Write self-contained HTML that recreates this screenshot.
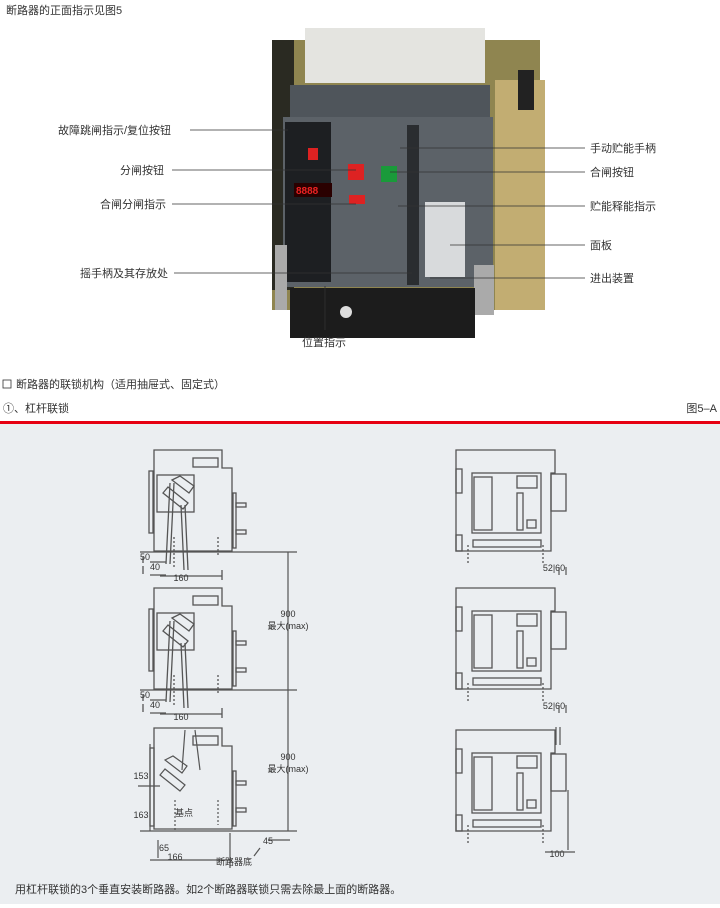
<!DOCTYPE html>
<html><head><meta charset="utf-8"><style>
body{margin:0;width:720px;height:908px;background:#fff;font-family:"Liberation Sans","Noto Sans CJK SC",sans-serif;overflow:hidden}
svg{display:block}
text{font-family:"Liberation Sans","Noto Sans CJK SC",sans-serif}
</style></head><body>
<svg width="720" height="908" viewBox="0 0 720 908" xmlns="http://www.w3.org/2000/svg">
<defs>
<g id="side" fill="none" stroke="#555" stroke-width="1.3">
 <path d="M154,450 H222 V468 H232 V551 H154 Z"/>
 <rect x="157" y="475" width="37" height="37"/>
 <rect x="193" y="458" width="25" height="9"/>
 <rect x="149" y="471" width="4" height="62"/>
 <rect x="233" y="493" width="3" height="55"/>
 <rect x="236" y="503" width="10" height="4"/>
 <rect x="236" y="530" width="10" height="4"/>
 <path d="M170,483 L166,564 M174,483 L170,564 M181,505 L184,570 M185,505 L188,570"/>
 <path d="M172,480 l8,-4 l14,10 l-5,7 z M163,493 l5,-6 l20,16 l-5,6 z"/>
 <path d="M174,537 v30 M218,537 v20" stroke-dasharray="2,2"/>
 <path d="M143,557 v6 M143,566 v8 M150,562 H166 M150,575 H166 M160,576 H222 M222,570 V580"/>
</g>
<g id="front" fill="none" stroke="#555" stroke-width="1.3">
 <path d="M456,450 H555 V473 H551 V551 H456 Z"/>
 <rect x="456" y="469" width="6" height="24"/>
 <rect x="456" y="535" width="6" height="16"/>
 <rect x="472" y="473" width="69" height="60"/>
 <rect x="474" y="477" width="18" height="53"/>
 <rect x="517" y="476" width="20" height="12"/>
 <rect x="517" y="493" width="6" height="37"/>
 <rect x="527" y="520" width="9" height="8"/>
 <rect x="473" y="540" width="68" height="7"/>
 <rect x="551" y="474" width="15" height="37"/>
 <path d="M468,545 v18 M543,545 v18" stroke-dasharray="2,2"/>
</g>
</defs>
<text x="6" y="14" font-size="11" fill="#333">断路器的正面指示见图5</text>
<!-- breaker photo -->
<rect x="272" y="40" width="268" height="270" fill="#8f8550"/>
<rect x="272" y="40" width="22" height="250" fill="#2a2a22"/>
<rect x="495" y="80" width="50" height="230" fill="#c2ad72"/>
<rect x="305" y="28" width="180" height="55" fill="#e4e4e0"/>
<rect x="290" y="85" width="200" height="35" fill="#4f555b"/>
<rect x="283" y="117" width="210" height="170" fill="#5c6268"/>
<rect x="285" y="122" width="46" height="160" fill="#1d1f22"/>
<rect x="294" y="183" width="38" height="14" fill="#2a0000"/>
<text x="296" y="194" font-size="10" fill="#e22" font-weight="bold">8888</text>
<rect x="308" y="148" width="10" height="12" fill="#d22"/>
<rect x="348" y="164" width="16" height="16" fill="#d22"/>
<rect x="381" y="166" width="16" height="16" fill="#1a9a3a"/>
<rect x="349" y="195" width="16" height="9" fill="#d22"/>
<rect x="407" y="125" width="12" height="160" fill="#2a2d30"/>
<rect x="425" y="202" width="40" height="75" fill="#d8dadc"/>
<rect x="275" y="245" width="12" height="65" fill="#aaa"/>
<rect x="474" y="265" width="20" height="50" fill="#aaa"/>
<rect x="290" y="288" width="185" height="50" fill="#1c1c1c"/>
<circle cx="346" cy="312" r="6" fill="#ddd"/>
<rect x="518" y="70" width="16" height="40" fill="#222"/>
<!-- labels -->
<g font-size="11" fill="#333">
<text x="58" y="134">故障跳闸指示/复位按钮</text>
<text x="120" y="174">分闸按钮</text>
<text x="100" y="208">合闸分闸指示</text>
<text x="80" y="277">摇手柄及其存放处</text>
<text x="590" y="152">手动贮能手柄</text>
<text x="590" y="176">合闸按钮</text>
<text x="590" y="210">贮能释能指示</text>
<text x="590" y="249">面板</text>
<text x="590" y="282">进出装置</text>
<text x="302" y="346">位置指示</text>
</g>
<g stroke="#333" stroke-width="0.8">
<path d="M190,130 H288 M172,170 H356 M172,204 H356 M174,273 H412 M400,148 H585 M390,172 H585 M398,206 H585 M450,245 H585 M430,278 H585 M325,286 V330"/>
</g>
<g font-size="11" fill="#333">
<rect x="3" y="380" width="8" height="8" fill="none" stroke="#333" stroke-width="0.8"/>
<text x="16" y="388">断路器的联锁机构（适用抽屉式、固定式）</text>
<text x="3" y="412">①、杠杆联锁</text>
<text x="717" y="412" text-anchor="end">图5–A</text>
</g>
<rect x="0" y="421" width="720" height="3" fill="#e60012"/>
<rect x="0" y="424" width="720" height="480" fill="#ebeef1"/>
<!-- side views -->
<use href="#side"/>
<use href="#side" transform="translate(0,138)"/>
<g transform="translate(0,278)">
 <path d="M154,450 H222 V468 H232 V551 H154 Z" fill="none" stroke="#555" stroke-width="1.3"/>
 <rect x="193" y="458" width="25" height="9" fill="none" stroke="#555" stroke-width="1.3"/>
 <rect x="233" y="493" width="3" height="55" fill="none" stroke="#555" stroke-width="1.3"/>
 <rect x="236" y="503" width="10" height="4" fill="none" stroke="#555" stroke-width="1.3"/>
 <rect x="236" y="530" width="10" height="4" fill="none" stroke="#555" stroke-width="1.3"/>
 <rect x="150" y="470" width="4" height="78" fill="none" stroke="#555" stroke-width="1.3"/>
</g>
<g fill="none" stroke="#555" stroke-width="1.2">
<path d="M140,552 H297 M140,690 H297 M140,831 H297"/>
<path d="M288,552 V690 M288,690 V831"/>
<path d="M150,744 V831 M230,833 V868 M158,840 V858"/>
<path d="M165,760 l8,-4 l14,10 l-5,7 z M160,775 l5,-6 l20,16 l-5,6 z M185,730 L182,770 M195,730 L200,770"/>
<path d="M138,786 H160 M150,860 H232"/>
<path d="M268,840 H290 M260,848 l-6,8"/>
<path d="M175,800 v30 M218,800 v25" stroke-dasharray="2,2"/>
</g>
<g font-size="9" fill="#333" text-anchor="middle">
<text x="145" y="560">50</text><text x="155" y="570">40</text>
<text x="181" y="581">160</text>
<text x="145" y="698">50</text><text x="155" y="708">40</text>
<text x="181" y="720">160</text>
<text x="288" y="617">900</text><text x="288" y="629">最大(max)</text>
<text x="288" y="760">900</text><text x="288" y="772">最大(max)</text>
<text x="141" y="779">153</text><text x="141" y="818">163</text>
<text x="184" y="816">基点</text>
<text x="164" y="851">65</text><text x="175" y="860">166</text>
<text x="268" y="844">45</text>
<text x="234" y="865">断路器底</text>
<text x="554" y="571">52|60</text>
<text x="554" y="709">52|60</text>
<text x="557" y="857">100</text>
</g>
<!-- front views -->
<use href="#front"/>
<use href="#front" transform="translate(0,138)"/>
<use href="#front" transform="translate(0,280)"/>
<g stroke="#555" stroke-width="1.2" fill="none">
<path d="M559,567 V575 M566,567 V575 M566,705 V713 M559,705 V713"/>
<path d="M556,727 V745 M560,727 V745 M568,790 V850 M545,852 H575"/>
</g>
<text x="15" y="893" font-size="11" fill="#333">用杠杆联锁的3个垂直安装断路器。如2个断路器联锁只需去除最上面的断路器。</text>
</svg>
</body></html>
